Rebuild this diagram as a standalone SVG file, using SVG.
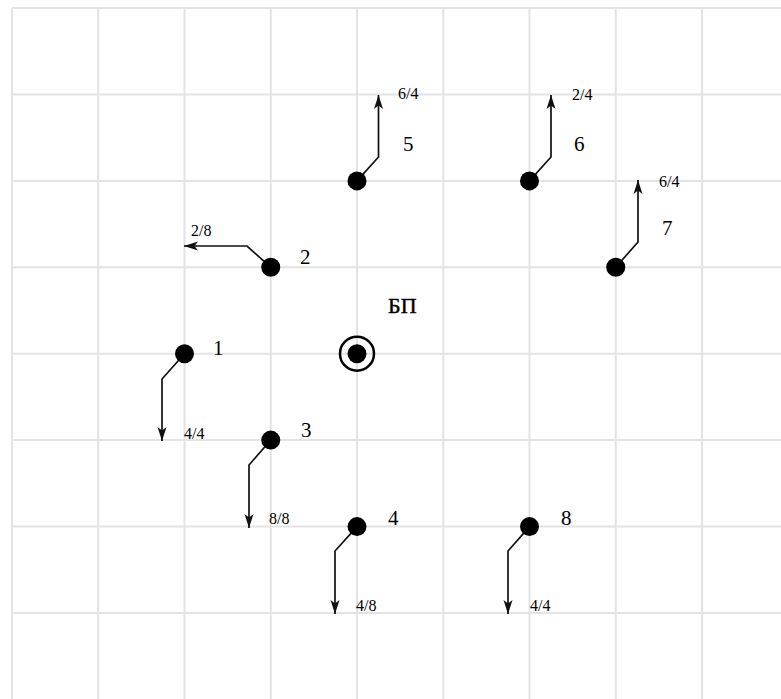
<svg xmlns="http://www.w3.org/2000/svg" width="781" height="699" viewBox="0 0 781 699">
<defs>
<style>
.grid line{stroke:#e3e3e3;stroke-width:2}
.dot{fill:#000}
.num{font-family:"Liberation Serif","Times New Roman",serif;font-size:21px;fill:#000}
.bp{font-family:"Liberation Serif","Times New Roman",serif;font-size:22px;fill:#000;stroke:#000;stroke-width:0.4}
.frac{font-family:"Liberation Serif","Times New Roman",serif;font-size:16px;fill:#000}
.conn polyline{fill:none;stroke:#111;stroke-width:1.7}
</style>
<marker id="arr" markerUnits="userSpaceOnUse" markerWidth="15" markerHeight="10" refX="14" refY="4.5" orient="auto" viewBox="0 0 15 9">
<path d="M0,0 L14,4.5 L0,9 L3.5,4.5 Z" fill="#111"/>
</marker>
</defs>
<rect width="781" height="699" fill="#fff"/>
<g class="grid">
<line x1="12" y1="8" x2="12" y2="699"/>
<line x1="98.25" y1="8" x2="98.25" y2="699"/>
<line x1="184.5" y1="8" x2="184.5" y2="699"/>
<line x1="270.75" y1="8" x2="270.75" y2="699"/>
<line x1="357" y1="8" x2="357" y2="699"/>
<line x1="443.25" y1="8" x2="443.25" y2="699"/>
<line x1="529.5" y1="8" x2="529.5" y2="699"/>
<line x1="615.75" y1="8" x2="615.75" y2="699"/>
<line x1="702" y1="8" x2="702" y2="699"/>
<line x1="12" y1="8" x2="781" y2="8"/>
<line x1="12" y1="94.4" x2="781" y2="94.4"/>
<line x1="12" y1="180.9" x2="781" y2="180.9"/>
<line x1="12" y1="267.3" x2="781" y2="267.3"/>
<line x1="12" y1="353.7" x2="781" y2="353.7"/>
<line x1="12" y1="440.1" x2="781" y2="440.1"/>
<line x1="12" y1="526.6" x2="781" y2="526.6"/>
<line x1="12" y1="613" x2="781" y2="613"/>
</g>
<g id="connectors" class="conn">
<polyline points="184.5,353.7 162,379 162,441" marker-end="url(#arr)"/>
<polyline points="270.75,267.3 247,246 184,246" marker-end="url(#arr)"/>
<polyline points="270.75,440.1 249,465 249,528" marker-end="url(#arr)"/>
<polyline points="357,526.6 335,551 335,614" marker-end="url(#arr)"/>
<polyline points="357,180.9 378.5,157 378.5,95" marker-end="url(#arr)"/>
<polyline points="529.5,180.9 551,157 551,95" marker-end="url(#arr)"/>
<polyline points="615.75,267.3 638,242 638,180" marker-end="url(#arr)"/>
<polyline points="529.5,526.6 508,551 508,614" marker-end="url(#arr)"/>
</g>
<g id="node-bp">
<circle cx="357" cy="353.7" r="17" fill="none" stroke="#000" stroke-width="2.5"/>
<circle class="dot" cx="357" cy="353.7" r="9.5"/>
<text class="bp" x="388" y="313">БП</text>
</g>
<g id="node-1">
<circle class="dot" cx="184.5" cy="353.7" r="9.5"/>
<text class="num" x="213" y="355">1</text>
<text class="frac" x="184" y="439">4/4</text>
</g>
<g id="node-2">
<circle class="dot" cx="270.75" cy="267.3" r="9.5"/>
<text class="num" x="300" y="264">2</text>
<text class="frac" x="191" y="236">2/8</text>
</g>
<g id="node-3">
<circle class="dot" cx="270.75" cy="440.1" r="9.5"/>
<text class="num" x="301" y="437">3</text>
<text class="frac" x="269" y="524">8/8</text>
</g>
<g id="node-4">
<circle class="dot" cx="357" cy="526.6" r="9.5"/>
<text class="num" x="388" y="525">4</text>
<text class="frac" x="356" y="611">4/8</text>
</g>
<g id="node-5">
<circle class="dot" cx="357" cy="180.9" r="9.5"/>
<text class="num" x="403" y="151">5</text>
<text class="frac" x="398" y="99">6/4</text>
</g>
<g id="node-6">
<circle class="dot" cx="529.5" cy="180.9" r="9.5"/>
<text class="num" x="574" y="151">6</text>
<text class="frac" x="572" y="100">2/4</text>
</g>
<g id="node-7">
<circle class="dot" cx="615.75" cy="267.3" r="9.5"/>
<text class="num" x="662" y="235">7</text>
<text class="frac" x="659" y="187">6/4</text>
</g>
<g id="node-8">
<circle class="dot" cx="529.5" cy="526.6" r="9.5"/>
<text class="num" x="561" y="525">8</text>
<text class="frac" x="530" y="611">4/4</text>
</g>
</svg>
